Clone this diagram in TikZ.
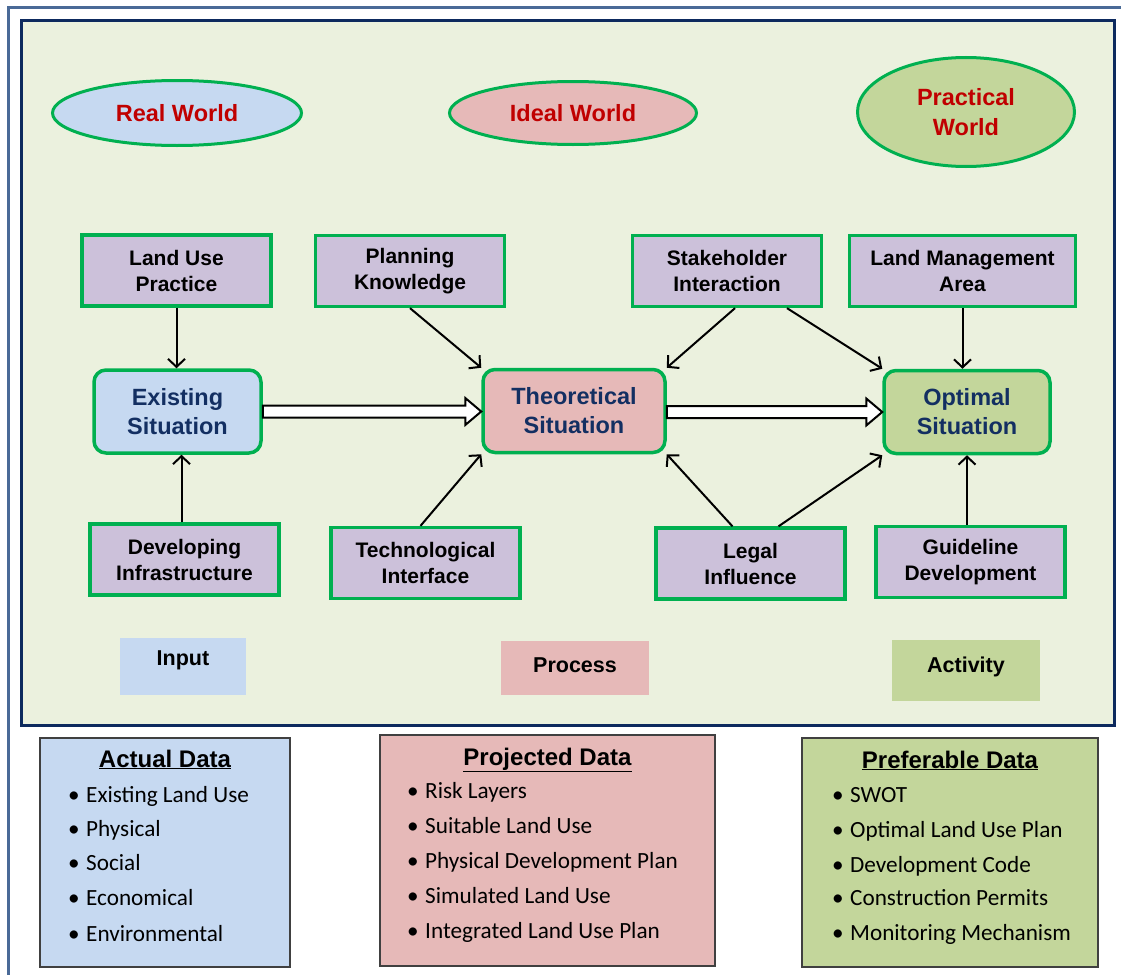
\documentclass[tikz,border=0pt]{standalone}
\usepackage{fontspec}
\setmainfont{Liberation Sans}
\newfontfamily\itemfont{Carlito}
\usetikzlibrary{shapes.geometric,arrows.meta,calc}

\definecolor{panel}{HTML}{EBF1DE}
\definecolor{frameblue}{HTML}{0D2A5E}
\definecolor{outerblue}{HTML}{4A6A97}
\definecolor{realfill}{HTML}{C6D9F1}
\definecolor{idealfill}{HTML}{E6B9B8}
\definecolor{practfill}{HTML}{C3D69B}
\definecolor{factorfill}{HTML}{CCC1DA}
\definecolor{edgegreen}{HTML}{00B050}
\definecolor{worldred}{HTML}{C00000}
\definecolor{sitnavy}{HTML}{132F62}
\definecolor{listedge}{HTML}{404040}

\tikzset{
  world/.style={ellipse, draw=edgegreen, line width=3pt, text=worldred,
    font=\fontsize{23.5}{30}\selectfont\bfseries, align=center, inner sep=0pt},
  factor/.style={rectangle, draw=edgegreen, line width=3.3pt, fill=factorfill,
    font=\fontsize{21}{26}\selectfont\bfseries, align=center, inner sep=0pt,
    minimum width=189pt, minimum height=71pt},
  situation/.style={rectangle, rounded corners=12pt, draw=edgegreen, line width=3.5pt,
    text=sitnavy, font=\fontsize{23.5}{29}\selectfont\bfseries, align=center,
    inner sep=0pt, minimum height=83pt},
  legendbox/.style={rectangle, inner sep=0pt, font=\fontsize{21.5}{24}\selectfont\bfseries},
  databox/.style={rectangle, draw=listedge, line width=1.5pt, inner sep=0pt},
  datatitle/.style={anchor=base, inner sep=0pt, font=\fontsize{24}{28}\selectfont\bfseries},
  dataitem/.style={anchor=base west, inner sep=0pt, font=\itemfont\fontsize{23.2}{27}\selectfont},
  link/.style={line width=2pt, -{Straight Barb[length=8pt,width=17pt]}},
  hollow/.style={draw=black, line width=2pt, fill=white, line join=miter}
}

\newcommand{\bul}[1]{\makebox[18pt][l]{•}#1}

\begin{document}
\begin{tikzpicture}[x=1pt,y=-1pt]
\useasboundingbox (0,0) rectangle (1121,974);
\clip (0,0) rectangle (1121,974);
\fill[white] (0,0) rectangle (1121,974);

% outer page frame
\draw[outerblue, line width=3pt] (8,990) -- (8,8) -- (1140,8);

% main panel
\draw[frameblue, line width=3pt, fill=panel] (21,21) rectangle (1114,725);

% worlds
\node[world, fill=realfill, minimum width=249pt, minimum height=65pt] (rw) at (177,113) {Real World};
\node[world, fill=idealfill, minimum width=247pt, minimum height=63pt] (iw) at (573,113) {Ideal World};
\node[world, fill=practfill, minimum width=217pt, minimum height=109pt] (pw) at (966,112) {Practical\\World};

% influencing factors
\node[factor] (lup) at (176.5,270.5) {Land Use\\Practice};
\node[factor] (pk)  at (410,271)   {Planning\\Knowledge};
\node[factor] (sh)  at (727,271)   {Stakeholder\\Interaction};
\node[factor, minimum width=226pt] (lma) at (962.5,271) {Land Management\\Area};
\node[factor] (di)  at (184.5,559.5) {Developing\\Infrastructure};
\node[factor] (tn)  at (425.5,563) {Technological\\Interface};
\node[factor] (li)  at (750.5,563.5) {Legal\\Influence};
\node[factor] (gd)  at (970.5,562) {Guideline\\Development};

% situations
\node[situation, fill=realfill, minimum width=167pt] (es) at (177.5,411.5) {Existing\\Situation};
\node[situation, fill=idealfill, minimum width=182pt] (ts) at (574,411) {Theoretical\\Situation};
\node[situation, fill=practfill, minimum width=166pt] (os) at (967,412) {Optimal\\Situation};

% factor arrows
\draw[link] (lup.south) -- (lup.south |- es.north);
\draw[link] ([xshift=-3pt]di.north) -- ([xshift=-3pt]di.north |- es.south);
\draw[link] (pk.south) -- (ts.north west);
\draw[link] ([xshift=8pt]sh.south) -- (ts.north east);
\draw[link] ([xshift=60pt]sh.south) -- (os.north west);
\draw[link] ([xshift=-5pt]tn.north) -- (ts.south west);
\draw[link] ([xshift=-18pt]li.north) -- (ts.south east);
\draw[link] ([xshift=28pt]li.north) -- (os.south west);
\draw[link] (lma.south) -- (lma.south |- os.north);
\draw[link] (os.south |- gd.north) -- (os.south);

% hollow flow arrows
\draw[hollow] let \p1=(es.east), \p2=(ts.west) in
  (\x1,\y1+6pt) -- (\x2-16pt,\y1+6pt) -- (\x2-16pt,\y1+13.5pt) -- (\x2,\y1)
  -- (\x2-16pt,\y1-13.5pt) -- (\x2-16pt,\y1-6pt) -- (\x1,\y1-6pt) -- cycle;
\draw[hollow] let \p1=(ts.east), \p2=(os.west) in
  (\x1,\y2+6pt) -- (\x2-16pt,\y2+6pt) -- (\x2-16pt,\y2+13.5pt) -- (\x2,\y2)
  -- (\x2-16pt,\y2-13.5pt) -- (\x2-16pt,\y2-6pt) -- (\x1,\y2-6pt) -- cycle;

% legend
\node[legendbox, fill=realfill, minimum width=126pt, minimum height=57pt] (lin) at (183,666.5) {};
\node[legendbox] at ([yshift=6pt]lin.center) {Input};
\node[legendbox, fill=idealfill, minimum width=148pt, minimum height=54pt] (lpr) at (575,668) {};
\node[legendbox] at ([yshift=3pt]lpr.center) {Process};
\node[legendbox, fill=practfill, minimum width=148pt, minimum height=61pt] (lac) at (966,670.5) {};
\node[legendbox] at ([yshift=4pt]lac.center) {Activity};

% data boxes
\node[databox, fill=realfill, minimum width=250pt, minimum height=229pt] (ad) at (165,852.5) {};
\node[datatitle] at (165,767) {\underline{Actual Data}};
\node[dataitem] at (68,802) {\bul{Existing Land Use}};
\node[dataitem] at (68,836) {\bul{Physical}};
\node[dataitem] at (68,870) {\bul{Social}};
\node[dataitem] at (68,905) {\bul{Economical}};
\node[dataitem] at (68,941) {\bul{Environmental}};

\node[databox, fill=idealfill, minimum width=335pt, minimum height=231pt] (pd) at (547.5,850.5) {};
\node[datatitle] at (547.5,765) {\underline{Projected Data}};
\node[dataitem] at (407,798) {\bul{Risk Layers}};
\node[dataitem] at (407,833) {\bul{Suitable Land Use}};
\node[dataitem] at (407,868) {\bul{Physical Development Plan}};
\node[dataitem] at (407,903) {\bul{Simulated Land Use}};
\node[dataitem] at (407,938) {\bul{Integrated Land Use Plan}};

\node[databox, fill=practfill, minimum width=296pt, minimum height=229pt] (fd) at (950,852.5) {};
\node[datatitle] at (950,768) {\underline{Preferable Data}};
\node[dataitem] at (832,802) {\bul{SWOT}};
\node[dataitem] at (832,837) {\bul{Optimal Land Use Plan}};
\node[dataitem] at (832,872) {\bul{Development Code}};
\node[dataitem] at (832,905) {\bul{Construction Permits}};
\node[dataitem] at (832,940) {\bul{Monitoring Mechanism}};
\end{tikzpicture}
\end{document}
